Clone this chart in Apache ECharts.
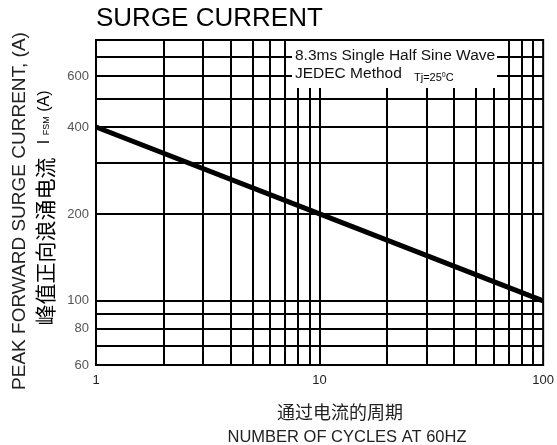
<!DOCTYPE html>
<html><head><meta charset="utf-8">
<script src="https://cdn.jsdelivr.net/npm/echarts@6/dist/echarts.min.js"></script>
<style>html,body{margin:0;padding:0;background:#fff}#c{width:557px;height:445px}</style>
</head><body><div id="c"></div>
<script>
// ---- data ----
const cycles = [1, 10, 100];
const surgeCurrent = [400, 200, 100];
const xTickValues = [1, 10, 100];
const yTickValues = [60, 80, 100, 200, 400, 600];
const xGridValues = [2, 3, 4, 5, 6, 7, 8, 9, 10, 20, 30, 40, 50, 60, 70, 80, 90];
const yGridValues = [70, 80, 90, 100, 200, 300, 400, 500, 600, 700];
const titleText = 'SURGE CURRENT';
const yName1 = 'PEAK FORWARD SURGE CURRENT, (A)';
const xName1 = '通过电流的周期';
const xName2 = 'NUMBER OF CYCLES AT 60HZ';

const chart = echarts.init(document.getElementById('c'), null, {renderer: 'canvas'});
const font = '"Liberation Sans", Arial, sans-serif';
const gridMarks = xGridValues.map(v => ({xAxis: v})).concat(yGridValues.map(v => ({yAxis: v})));

chart.setOption({
  animation: false,
  backgroundColor: '#fff',
  grid: {left: 96, right: 11, top: 40, bottom: 80, show: true, borderColor: '#000', borderWidth: 2, backgroundColor: 'transparent'},
  xAxis: {
    type: 'log', logBase: 10, min: 1, max: 100,
    axisLine: {show: false}, axisTick: {show: false}, splitLine: {show: false}, minorTick: {show: false},
    axisLabel: {customValues: xTickValues, color: '#222', fontSize: 13, fontFamily: font, margin: 9, formatter: v => String(v)}
  },
  yAxis: {
    type: 'log', logBase: 10, min: 60, max: 800,
    axisLine: {show: false}, axisTick: {show: false}, splitLine: {show: false},
    axisLabel: {customValues: yTickValues, color: '#555', fontSize: 13, fontFamily: font, margin: 7, formatter: v => String(v)}
  },
  series: [{
    type: 'line',
    data: cycles.map((c, i) => [c, surgeCurrent[i]]),
    showSymbol: false, symbol: 'none',
    lineStyle: {color: '#000', width: 5},
    z: 5,
    markLine: {
      silent: true, symbol: ['none', 'none'], label: {show: false},
      lineStyle: {color: '#000', width: 2, type: 'solid'},
      emphasis: {disabled: true},
      data: gridMarks,
      z: 3
    }
  }],
  graphic: [
    {type: 'text', left: 96, top: 6, z: 10, style: {text: titleText, font: '26px ' + font, fill: '#000'}},
    {type: 'rect', shape: {x: 292, y: 41, width: 205, height: 47}, style: {fill: '#fff'}, z: 50},
    {type: 'text', x: 295, y: 56, z: 51, style: {text: '8.3ms Single Half Sine Wave', font: '15.5px ' + font, fill: '#111', textVerticalAlign: 'middle'}},
    {type: 'text', x: 295, y: 74, z: 51, style: {text: 'JEDEC Method', font: '15.5px ' + font, fill: '#111', textVerticalAlign: 'middle'}},
    {type: 'text', x: 414, y: 78, z: 51, style: {
      text: '{n|Tj=25}{s|0}{n|C}', textVerticalAlign: 'middle',
      rich: {n: {fontSize: 11, fontFamily: font, color: '#111'}, s: {fontSize: 7, fontFamily: font, color: '#111', verticalAlign: 'top', padding: [0, 0, 6, 0]}}
    }},
    {type: 'text', x: 20, y: 211, rotation: Math.PI / 2, z: 10, style: {text: yName1, font: '19px ' + font, fill: '#222', textAlign: 'center', textVerticalAlign: 'middle'}},
    {type: 'text', x: 45, y: 208, rotation: Math.PI / 2, z: 10, style: {
      text: '{c|峰值正向浪涌电流}{n|   I }{s|FSM}{n| (A)}', textAlign: 'center', textVerticalAlign: 'middle',
      rich: {
        c: {fontSize: 21, fontFamily: '"Noto Sans CJK SC", sans-serif', color: '#222'},
        n: {fontSize: 16, fontFamily: font, color: '#222'},
        s: {fontSize: 9, fontFamily: font, color: '#222', padding: [4, 0, 0, 0]}
      }
    }},
    {type: 'text', x: 340, y: 412, z: 10, style: {text: xName1, font: '18px "Noto Sans CJK SC", sans-serif', fill: '#222', textAlign: 'center', textVerticalAlign: 'middle'}},
    {type: 'text', x: 347, y: 437, z: 10, style: {text: xName2, font: '16.5px ' + font, fill: '#222', textAlign: 'center', textVerticalAlign: 'middle'}}
  ]
});
</script></body></html>
